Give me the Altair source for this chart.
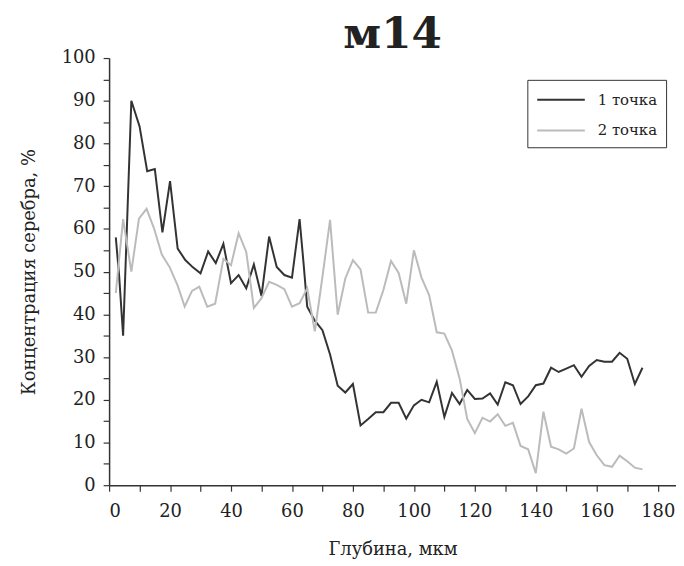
import altair as alt
import pandas as pd

# Series 1 ("1 точка")
x1 = [2.2, 3.3, 4.6, 7.3, 10.0, 12.5, 15.0, 17.5, 20.0, 22.5, 25.0, 27.5, 30.0,
      32.5, 35.0, 37.5, 40.0, 42.5, 45.0, 47.5, 50.0, 52.5, 55.0, 57.5, 60.0,
      62.5, 63.8, 65.0, 67.5, 70.0, 72.5, 75.0, 77.5, 80.0, 82.5, 85.0, 87.5,
      90.0, 92.5, 95.0, 97.5, 100.0, 102.5, 105.0, 107.5, 110.0, 112.5, 115.0,
      117.5, 120.0, 122.5, 125.0, 127.5, 130.0, 132.5, 135.0, 137.5, 140.0,
      142.5, 145.0, 147.5, 150.0, 152.5, 155.0, 157.5, 160.0, 162.5, 165.0,
      167.5, 170.0, 172.5, 175.0]
y1 = [58.0, 49.0, 35.0, 90.0, 84.0, 73.5, 74.0, 59.2, 71.2, 55.4, 52.7, 51.0, 49.6,
      54.7, 52.0, 56.5, 47.3, 49.2, 46.1, 51.7, 44.3, 58.2, 51.1, 49.2, 48.6,
      62.3, 52.0, 41.8, 38.5, 36.3, 30.6, 23.3, 21.7, 23.7, 14.0, 15.5, 17.1,
      17.1, 19.3, 19.3, 15.6, 18.7, 20.0, 19.4, 24.2, 16.0, 21.6, 19.0,
      22.3, 20.2, 20.3, 21.5, 18.9, 24.1, 23.4, 19.0, 20.8, 23.4,
      23.8, 27.5, 26.5, 27.3, 28.1, 25.4, 27.9, 29.3, 28.9, 28.9,
      31.0, 29.6, 23.7, 27.5]

# Series 2 ("2 точка")
x2 = [2.2, 4.6, 7.3, 9.8, 12.3, 14.7, 17.3, 19.9, 22.5, 24.8, 27.2, 29.6, 32.2,
      34.8, 37.5, 40.0, 42.5, 45.0, 47.5, 50.0, 52.5, 55.0, 57.5, 60.0, 62.5,
      65.0, 67.5, 70.0, 72.5, 75.0, 77.5, 80.0, 82.5, 85.0, 87.5, 90.0, 92.5,
      95.0, 97.5, 100.0, 102.5, 105.0, 107.5, 110.0, 112.5, 115.0, 117.5,
      120.0, 122.5, 125.0, 127.5, 130.0, 132.5, 135.0, 137.5, 140.0, 142.5,
      145.0, 147.5, 150.0, 152.5, 155.0, 157.5, 160.0, 162.5, 165.0, 167.5,
      170.0, 172.5, 175.0]
y2 = [45.0, 62.3, 50.0, 62.4, 64.7, 60.2, 54.0, 51.0, 46.7, 41.8, 45.5, 46.5, 41.8,
      42.5, 53.0, 51.5, 59.0, 54.6, 41.5, 43.8, 47.6, 46.9, 45.9, 41.8, 42.6,
      46.1, 36.0, 48.8, 62.1, 39.9, 48.4, 52.7, 50.5, 40.4, 40.4, 45.7, 52.5,
      49.7, 42.5, 55.0, 48.6, 44.5, 35.8, 35.5, 31.5, 25.0, 15.5,
      12.2, 15.8, 14.9, 16.6, 13.9, 14.6, 9.2, 8.4, 2.8, 17.2,
      9.0, 8.4, 7.4, 8.6, 17.9, 10.1, 7.0, 4.7, 4.3, 6.9,
      5.6, 4.1, 3.7]

names = ["1 точка", "2 точка"]
colors = ["#333333", "#bbbbbb"]

df = pd.concat([
    pd.DataFrame({"x": x1, "y": y1, "s": names[0], "o": range(len(x1))}),
    pd.DataFrame({"x": x2, "y": y2, "s": names[1], "o": range(len(x2))}),
])

FONT = "DejaVu Serif"

chart = alt.Chart(df).mark_line(strokeWidth=2).encode(
    x=alt.X("x:Q", scale=alt.Scale(domain=[0, 186], nice=False),
            axis=alt.Axis(title="Глубина, мкм", values=list(range(0, 190, 10)),
                          labelExpr="datum.value % 20 == 0 ? datum.label : ''",
                          grid=False, tickSize=6, labelPadding=12, titlePadding=20)),
    y=alt.Y("y:Q", scale=alt.Scale(domain=[0, 100], nice=False),
            axis=alt.Axis(title="Концентрация серебра, %", values=list(range(0, 105, 5)),
                          labelExpr="datum.value % 10 == 0 ? datum.label : ''",
                          grid=False, tickSize=6, labelPadding=8, titlePadding=23)),
    color=alt.Color("s:N", scale=alt.Scale(domain=names, range=colors),
                    legend=alt.Legend(title=None, orient="none", legendX=422, legendY=22,
                                      symbolType="M-1,0L3.8,0", symbolSize=400,
                                      symbolStrokeWidth=2, symbolFillColor="transparent",
                                      labelFont=FONT,
                                      labelFontSize=15, labelColor="#222",
                                      strokeColor="#333", padding=9,
                                      rowPadding=12, labelOffset=40)),
    order="o:Q",
).properties(
    width=572, height=431,
    title=alt.TitleParams("м14", font=FONT, fontSize=44, fontWeight="bold",
                          color="#222", anchor="middle", offset=-8),
    autosize=alt.AutoSizeParams(type="none"),
    padding={"left": 102, "top": 48, "right": 0, "bottom": 76},
).configure_view(stroke=None).configure_axis(
    domainColor="#333", domainWidth=1.5, tickColor="#333", tickWidth=1.2,
    labelFont=FONT, labelFontSize=18, labelColor="#222",
    titleFont=FONT, titleFontSize=18, titleFontWeight="normal", titleColor="#222",
)

chart.save("out.html", embed_options={"renderer": "svg", "actions": False})
